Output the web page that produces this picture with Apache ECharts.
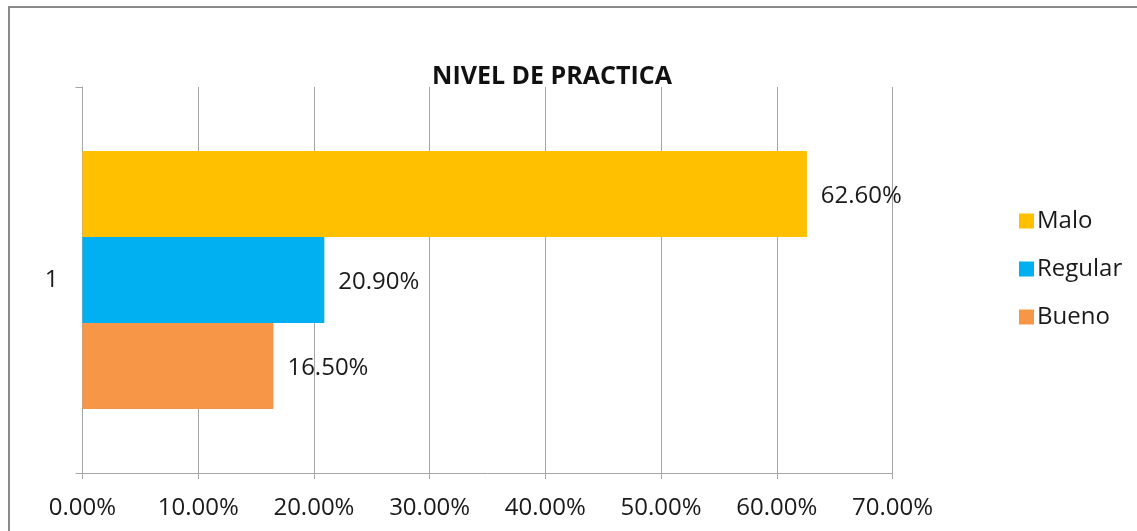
<!DOCTYPE html>
<html>
<head>
<meta charset="utf-8">
<script src="https://cdn.jsdelivr.net/npm/echarts@6/dist/echarts.min.js"></script>
<style>
  html, body { margin: 0; padding: 0; background: #fff; }
  #chart { width: 1137px; height: 531px; }
</style>
</head>
<body>
<div id="chart"></div>
<script>
// Nivel de práctica: porcentajes por nivel
const categories = ['1'];
const seriesNames = ['Malo', 'Regular', 'Bueno'];
const malo = [62.6];
const regular = [20.9];
const bueno = [16.5];
const xTicks = { min: 0, max: 70, interval: 10 };

const colors = { Malo: '#FFC000', Regular: '#00B0F0', Bueno: '#F79646' };
const valuesByName = { Malo: malo, Regular: regular, Bueno: bueno };

const FONT = '"Open Sans", sans-serif';
const TEXT = '#1a1a1a';
const pct = v => Number(v).toFixed(2) + '%';

const chart = echarts.init(document.getElementById('chart'), null, { renderer: 'canvas' });

chart.setOption({
  animation: false,
  textStyle: { fontFamily: FONT },
  title: {
    text: 'NIVEL DE PRACTICA',
    left: 547, top: 72,
    textAlign: 'center', textVerticalAlign: 'middle',
    textStyle: { fontFamily: FONT, fontWeight: 'bold', fontSize: 25, color: '#111' }
  },
  graphic: [{
    type: 'rect', silent: true, z: 100,
    shape: { x: 9, y: 7, width: 1300, height: 700 },
    style: { fill: 'none', stroke: '#8a8a8a', lineWidth: 2 }
  }],
  legend: {
    orient: 'vertical',
    left: 1014, top: 204,
    itemWidth: 15, itemHeight: 15, itemGap: 24,
    icon: 'rect',
    data: seriesNames,
    textStyle: { fontFamily: FONT, fontSize: 24, color: TEXT, padding: [0, 0, 0, -2] }
  },
  grid: { left: 82.5, right: 244.5, top: 87, bottom: 58, containLabel: false },
  xAxis: {
    type: 'value',
    min: xTicks.min, max: xTicks.max, interval: xTicks.interval,
    axisLine: { show: true, lineStyle: { color: '#a6a6a6', width: 1 } },
    axisTick: { show: true, length: 6, lineStyle: { color: '#a6a6a6' } },
    splitLine: { show: true, lineStyle: { color: '#a6a6a6', width: 1 } },
    axisLabel: { formatter: pct, fontFamily: FONT, fontSize: 24, color: TEXT, margin: 23 }
  },
  yAxis: {
    type: 'category',
    data: categories,
    inverse: true,
    axisLine: { show: true, lineStyle: { color: '#a6a6a6', width: 1 } },
    axisTick: { show: true, length: 7, lineStyle: { color: '#a6a6a6' } },
    axisLabel: { fontFamily: FONT, fontSize: 24, color: TEXT, margin: 24, padding: [6, 0, 0, 0] }
  },
  series: seriesNames.map(name => ({
    name,
    type: 'bar',
    data: valuesByName[name],
    barGap: '0%',
    barCategoryGap: '33.2%',
    itemStyle: { color: colors[name] },
    label: {
      show: true, position: 'right', distance: 14, offset: [0, 2],
      formatter: p => pct(p.value),
      fontFamily: FONT, fontSize: 24, color: TEXT
    }
  }))
});
</script>
</body>
</html>
